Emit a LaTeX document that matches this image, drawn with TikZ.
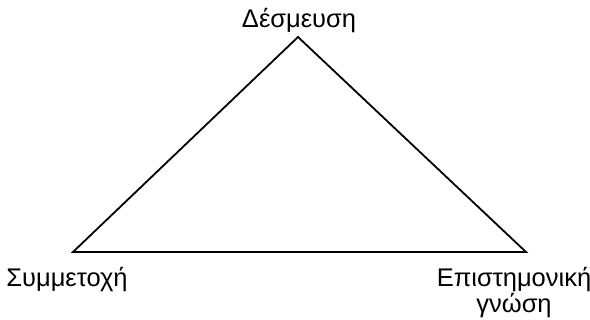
\documentclass[tikz,border=0pt]{standalone}
\usepackage{fontspec}
\setmainfont{Liberation Sans}
\begin{document}
\begin{tikzpicture}[
  x=1pt, y=-1pt,
  label/.style={inner sep=0pt, align=center, anchor=base, font=\fontsize{25.5}{26}\selectfont},
  side/.style={line width=1.8pt, line join=miter}
]
\useasboundingbox (0,0) rectangle (590,320);

% corners of the triangle
\coordinate (apex) at (298,37);
\coordinate (bl) at (73,252);
\coordinate (br) at (526,252);

\draw[side] (apex) -- (bl) -- (br) -- cycle;

\node[label] (commit) at (299,28) {Δέσμευση};
\node[label] (partic) at (67,287) {Συμμετοχή};
\node[label] (know) at (514,313) {Επιστημονική\\γνώση};

\end{tikzpicture}
\end{document}
